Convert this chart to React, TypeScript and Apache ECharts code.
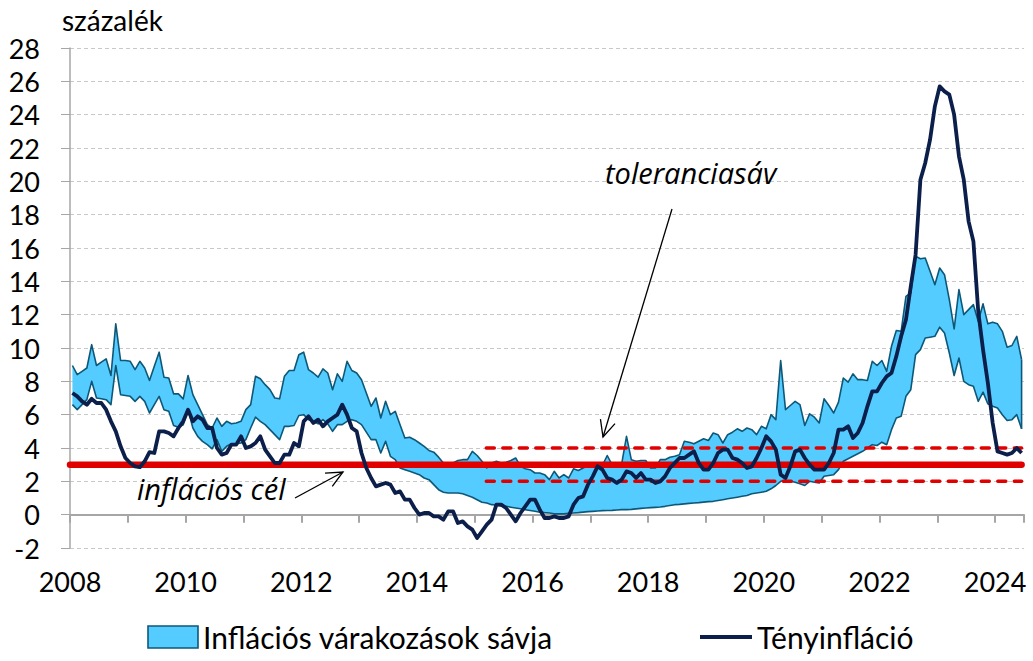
import React, { useEffect, useRef } from "react";
import * as echarts from "echarts";

// ---------- DATA ----------
const START_YEAR = 2008; // monthly data starting January 2008
const xTickYears = [2008, 2010, 2012, 2014, 2016, 2018, 2020, 2022, 2024];

// Actual CPI inflation (Tényinfláció), %, Jan 2008 – Jun 2024
const inflation = [
  7.3, 7.1, 6.8, 6.6, 6.95, 6.7, 6.7, 6.3, 5.6, 5.0, 4.1, 3.4,
  3.1, 2.9, 2.85, 3.2, 3.75, 3.7, 5.0, 5.0, 4.9, 4.7, 5.2, 5.6,
  6.3, 5.6, 5.9, 5.7, 5.2, 5.2, 4.0, 3.6, 3.7, 4.2, 4.2, 4.7,
  4.0, 4.1, 4.3, 4.7, 3.9, 3.5, 3.1, 3.1, 3.6, 3.6, 4.3, 4.1,
  5.6, 5.9, 5.5, 5.7, 5.3, 5.6, 5.8, 6.0, 6.6, 6.0, 5.2, 5.0,
  3.7, 2.8, 2.2, 1.7, 1.8, 1.9, 1.8, 1.3, 1.4, 0.9, 0.9, 0.4,
  0.0, 0.1, 0.1, -0.1, -0.1, -0.3, 0.2, 0.2, -0.5, -0.4, -0.7, -0.9,
  -1.4, -1.0, -0.6, -0.3, 0.6, 0.6, 0.4, 0.0, -0.4, 0.1, 0.5, 0.9,
  0.9, 0.3, -0.2, -0.2, -0.1, -0.2, -0.2, -0.1, 0.6, 1.0, 1.1, 1.8,
  2.3, 2.9, 2.7, 2.2, 2.1, 1.9, 2.1, 2.6, 2.5, 2.2, 2.5, 2.1,
  2.1, 1.9, 2.0, 2.3, 2.8, 3.1, 3.4, 3.4, 3.6, 3.8, 3.1, 2.7,
  2.7, 3.1, 3.7, 3.9, 3.9, 3.4, 3.3, 3.1, 2.8, 2.9, 3.4, 4.0,
  4.7, 4.4, 3.9, 2.4, 2.2, 2.9, 3.8, 3.9, 3.4, 3.0, 2.7, 2.7,
  2.7, 3.1, 3.7, 5.1, 5.1, 5.3, 4.6, 4.9, 5.5, 6.5, 7.4, 7.4,
  7.9, 8.3, 8.5, 9.5, 10.7, 11.7, 13.7, 15.6, 20.1, 21.1, 22.5, 24.5,
  25.7, 25.4, 25.2, 24.0, 21.5, 20.1, 17.6, 16.4, 12.2, 9.9, 7.9, 5.5,
  3.8, 3.7, 3.6, 3.7, 4.0, 3.7,
];

// Inflation expectations band (Inflációs várakozások sávja) – upper edge
const bandUpper = [
  8.95, 8.4, 8.6, 8.8, 10.2, 8.95, 9.15, 9.35, 8.35, 11.45, 9.25, 9.25,
  9.2, 8.7, 9.2, 8.8, 8.05, 8.9, 9.75, 8.25, 8.2, 7.25, 7.25, 6.95,
  8.35, 7.2, 6.6, 6.0, 5.4, 5.2, 5.8, 5.3, 5.6, 5.45, 5.5, 5.6,
  6.3, 6.6, 8.3, 8.15, 7.8, 7.5, 7.0, 6.95, 8.3, 8.65, 8.65, 9.6,
  9.75, 8.7, 8.5, 8.25, 8.75, 8.5, 7.5, 8.45, 8.0, 9.2, 8.65, 8.5,
  8.1, 7.3, 6.5, 7.0, 5.8, 6.8, 6.0, 6.2, 5.4, 4.6, 4.65, 4.5,
  4.3, 4.1, 3.85, 3.75, 3.45, 3.1, 3.0, 3.1, 3.25, 3.3, 3.3, 3.8,
  3.55, 3.2, 2.8, 3.1, 3.2, 3.1, 3.15, 3.25, 3.4, 2.9, 2.75, 2.7,
  2.5, 2.5, 2.4, 2.1, 2.6, 2.2, 2.4, 2.2, 2.75, 2.65, 2.8, 2.95,
  3.0, 3.0, 2.95, 3.55, 3.0, 3.0, 3.05, 4.7, 3.3, 3.2, 3.25, 3.25,
  2.8, 2.8, 3.3, 3.3, 3.45, 3.5, 3.6, 4.4, 4.35, 4.25, 4.4, 4.55,
  4.45, 4.9, 4.8, 4.3, 4.8, 4.95, 5.15, 5.0, 5.2, 5.1, 4.8, 5.3,
  5.15, 6.0, 5.7, 9.25, 6.3, 6.55, 6.8, 6.6, 5.35, 6.05, 5.85, 5.5,
  6.95, 6.55, 6.1, 6.75, 8.2, 7.95, 8.45, 8.1, 8.1, 8.05, 9.2, 8.95,
  9.25, 8.6, 10.1, 11.05, 11.0, 13.1, 13.3, 15.5, 15.35, 15.4, 14.6, 13.8,
  14.8, 14.4, 12.9, 11.15, 13.5, 12.0, 12.3, 12.6, 11.6, 12.65, 11.45, 11.55,
  11.45, 11.0, 10.05, 10.15, 10.7, 9.3,
];

// Inflation expectations band – lower edge
const bandLower = [
  6.6, 6.3, 6.6, 6.9, 8.0, 7.0, 6.95, 6.9, 6.6, 8.95, 7.2, 7.15,
  7.1, 6.8, 7.1, 6.8, 6.1, 6.6, 7.1, 6.3, 6.2, 5.35, 5.25, 5.4,
  6.3, 5.2, 4.7, 4.4, 4.2, 3.95, 4.5, 3.8, 4.1, 4.25, 4.25, 4.3,
  4.5, 5.2, 5.85, 5.6, 5.4, 5.1, 4.8, 4.5, 5.3, 5.3, 5.35, 5.95,
  6.0, 5.7, 5.6, 5.45, 5.7, 5.45, 5.0, 5.4, 5.4, 5.6, 5.7, 5.6,
  5.4, 4.95, 4.5, 4.5, 3.7, 4.4, 3.5, 3.3, 2.8, 2.7, 2.6, 2.5,
  2.4, 2.2, 2.1, 1.8, 1.5, 1.35, 1.3, 1.3, 1.3, 1.25, 1.15, 1.05,
  0.9, 0.75, 0.7, 0.6, 0.58, 0.52, 0.5, 0.45, 0.4, 0.35, 0.3, 0.25,
  0.2, 0.15, 0.12, 0.1, 0.05, 0.05, 0.05, 0.08, 0.1, 0.12, 0.15, 0.18,
  0.2, 0.22, 0.24, 0.25, 0.26, 0.28, 0.3, 0.3, 0.32, 0.35, 0.38, 0.4,
  0.42, 0.44, 0.46, 0.5, 0.55, 0.6, 0.62, 0.65, 0.68, 0.7, 0.72, 0.75,
  0.78, 0.8, 0.85, 0.9, 0.95, 1.0, 1.05, 1.1, 1.15, 1.25, 1.3, 1.35,
  1.4, 1.55, 1.75, 2.0, 2.05, 2.0, 1.95, 1.85, 1.75, 2.0, 1.95, 1.9,
  2.3, 2.35, 2.4, 2.7, 3.2, 3.35, 3.5, 3.65, 3.8, 4.0, 4.2, 4.15,
  4.35, 4.2, 5.1, 5.8, 5.9, 7.1, 7.5, 9.6, 9.9, 10.6, 10.65, 10.7,
  11.25, 10.9, 9.7, 8.35, 9.4, 8.0, 7.8, 7.7, 6.8, 7.35, 6.65, 6.5,
  6.4, 6.0, 5.65, 5.7, 6.0, 5.15,
];

const inflationTarget = 3;
const toleranceBand = [2, 4];
const toleranceStart = 2015.2;

const yMin = -2;
const yMax = 28;
const yInterval = 2;

const texts = {
  unit: "százalék",
  bandName: "Inflációs várakozások sávja",
  lineName: "Tényinfláció",
  tolerance: "toleranciasáv",
  target: "inflációs cél",
};

// ---------- HELPERS ----------
const xOf = (i: number) => START_YEAR + (i + 0.5) / 12;
const xEnd = START_YEAR + inflation.length / 12;
const xLast = xOf(inflation.length - 1);

const FONT = "Lato, 'Open Sans', sans-serif";
const ITALIC_FONT = "'Open Sans', Lato, sans-serif";
const FS = 27;
const LEGEND_FS = 30;
const BAND_FILL = "#55CCFF";
const BAND_EDGE = "#0D5878";
const NAVY = "#0C1F4A";
const RED = "#E00000";
const AXIS_GREY = "#A6A6A6";

function arrow(x1: number, y1: number, x2: number, y2: number, len = 18, ang = 25) {
  const a = Math.atan2(y1 - y2, x1 - x2);
  const r = (ang * Math.PI) / 180;
  const p1 = [x2 + len * Math.cos(a + r), y2 + len * Math.sin(a + r)];
  const p2 = [x2 + len * Math.cos(a - r), y2 + len * Math.sin(a - r)];
  return [
    { type: "line", shape: { x1, y1, x2, y2 }, style: { stroke: "#000", lineWidth: 1.3 }, z: 50 },
    { type: "polyline", shape: { points: [p1, [x2, y2], p2] }, style: { stroke: "#000", lineWidth: 1.3, fill: null }, z: 50 },
  ];
}

export default function App() {
  const ref = useRef<HTMLDivElement>(null);

  useEffect(() => {
    if (!ref.current) return;
    const chart = echarts.init(ref.current, undefined, { renderer: "svg" });

    const bandData = bandUpper.map((u, i) => [xOf(i), bandLower[i], u]);
    const inflData = inflation.map((v, i) => [xOf(i), v]);

    const option: any = {
      animation: false,
      grid: {
        left: 70,
        right: 1033 - 1024,
        top: 48,
        bottom: 661 - 548,
        containLabel: false,
        outerBoundsMode: "none",
      },
      xAxis: {
        type: "value",
        min: START_YEAR,
        max: xEnd,
        interval: 1,
        axisLine: { onZero: true, lineStyle: { color: AXIS_GREY, width: 2 } },
        axisTick: { show: true, length: 8, lineStyle: { color: AXIS_GREY, width: 2 } },
        splitLine: { show: false },
        axisLabel: {
          margin: 20,
          color: "#000",
          fontFamily: FONT,
          fontSize: FS,
          formatter: (v: number) => (xTickYears.includes(v) ? String(v) : ""),
        },
      },
      yAxis: {
        type: "value",
        min: yMin,
        max: yMax,
        interval: yInterval,
        axisLine: { show: true, lineStyle: { color: AXIS_GREY, width: 1.5 } },
        axisTick: { show: true, length: 9, lineStyle: { color: AXIS_GREY, width: 1 } },
        splitLine: { show: true, lineStyle: { color: "#C8C8C8", width: 1, type: [4, 3] } },
        axisLabel: { margin: 30, color: "#000", fontFamily: FONT, fontSize: FS },
      },
      series: [
        {
          name: texts.bandName,
          type: "custom",
          data: bandData,
          encode: { x: 0, y: [1, 2] },
          clip: true,
          z: 2,
          renderItem: (params: any, api: any) => {
            if (params.dataIndex !== 0) return null;
            const up = bandData.map((d) => api.coord([d[0], d[2]]));
            const lo = bandData.map((d) => api.coord([d[0], d[1]]));
            const n = up.length - 1;
            const poly = up.concat(lo.slice().reverse());
            const edge = { stroke: BAND_EDGE, lineWidth: 1.6, fill: null, lineJoin: "round" };
            return {
              type: "group",
              children: [
                { type: "polygon", shape: { points: poly }, style: { fill: BAND_FILL, stroke: null } },
                { type: "polyline", shape: { points: up }, style: edge },
                { type: "polyline", shape: { points: lo }, style: edge },
                {
                  type: "line",
                  shape: { x1: up[n][0], y1: up[n][1], x2: lo[n][0], y2: lo[n][1] },
                  style: edge,
                },
              ],
            };
          },
        },
        {
          name: "target",
          type: "line",
          data: [
            [START_YEAR, inflationTarget],
            [xLast, inflationTarget],
          ],
          symbol: "none",
          lineStyle: { color: RED, width: 6.5, cap: "round" },
          z: 4,
        },
        {
          name: "tolLow",
          type: "line",
          data: [
            [toleranceStart, toleranceBand[0]],
            [xLast, toleranceBand[0]],
          ],
          symbol: "none",
          lineStyle: { color: RED, width: 3.5, type: [8, 8.5], cap: "round" },
          z: 4,
        },
        {
          name: "tolHigh",
          type: "line",
          data: [
            [toleranceStart, toleranceBand[1]],
            [xLast, toleranceBand[1]],
          ],
          symbol: "none",
          lineStyle: { color: RED, width: 3.5, type: [8, 8.5], cap: "round" },
          z: 4,
        },
        {
          name: texts.lineName,
          type: "line",
          data: inflData,
          symbol: "none",
          lineStyle: { color: NAVY, width: 3.8, join: "round" },
          z: 5,
        },
      ],
      graphic: [
        {
          type: "text",
          left: 62,
          top: 6,
          style: { text: texts.unit, font: `28px ${FONT}`, fill: "#000" },
        },
        {
          type: "text",
          x: 605,
          y: 172,
          style: {
            text: texts.tolerance,
            font: `italic 29px ${ITALIC_FONT}`,
            fill: "#000",
            verticalAlign: "middle",
          },
          z: 50,
        },
        {
          type: "text",
          x: 137,
          y: 488,
          style: {
            text: texts.target,
            font: `italic 29px ${ITALIC_FONT}`,
            fill: "#000",
            verticalAlign: "middle",
          },
          z: 50,
        },
        ...arrow(672, 209, 603, 437),
        ...arrow(295, 498, 343, 472),
        {
          type: "rect",
          shape: { x: 148, y: 626, width: 50, height: 22 },
          style: { fill: BAND_FILL, stroke: BAND_EDGE, lineWidth: 1.6 },
        },
        {
          type: "text",
          x: 203,
          y: 637,
          style: { text: texts.bandName, font: `${LEGEND_FS}px ${FONT}`, fill: "#000", verticalAlign: "middle" },
        },
        {
          type: "line",
          shape: { x1: 700, y1: 637, x2: 752, y2: 637 },
          style: { stroke: NAVY, lineWidth: 4 },
        },
        {
          type: "text",
          x: 757,
          y: 637,
          style: { text: texts.lineName, font: `${LEGEND_FS}px ${FONT}`, fill: "#000", verticalAlign: "middle" },
        },
      ],
    };

    chart.setOption(option);
    return () => chart.dispose();
  }, []);

  return (
    <div
      ref={ref}
      style={{ position: "fixed", left: 0, top: 0, width: 1033, height: 661, background: "#fff" }}
    />
  );
}
